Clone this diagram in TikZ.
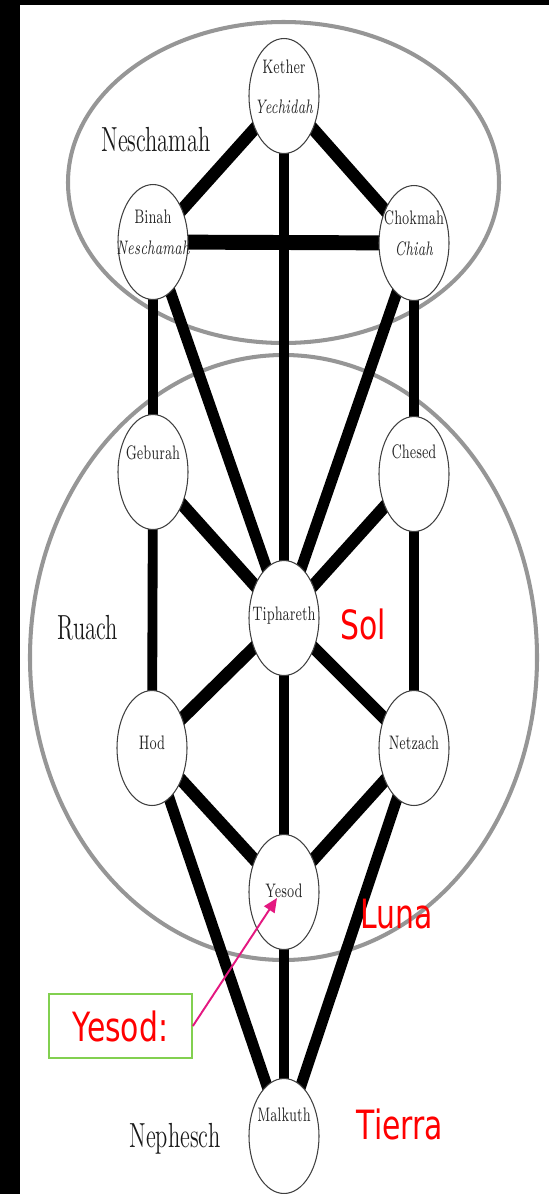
\documentclass[tikz,border=0pt]{standalone}
\usepackage{fontspec}
\usepackage{tikz}
\usetikzlibrary{arrows.meta, shapes.geometric, backgrounds}
\newfontfamily\tagfont{DejaVu Sans}
\definecolor{realmgray}{RGB}{150,150,150}
\definecolor{tagred}{RGB}{255,0,0}
\definecolor{pinkarrow}{RGB}{228,24,128}
\definecolor{boxgreen}{RGB}{130,208,80}
\newcommand{\tall}[2][1.55]{\scalebox{1}[#1]{#2}}

\begin{document}
\begin{tikzpicture}[
  x=0.02cm, y=-0.02cm,
  sefira/.style={ellipse, draw=black!75, line width=0.6pt, fill=white,
    minimum width=1.4cm, minimum height=2.3cm, inner sep=0pt},
  nm/.style={inner sep=0pt, text=black!85, font=\fontsize{7.2}{8}\selectfont},
  realm/.style={inner sep=0pt, text=black!90, font=\fontsize{12.8}{14}\selectfont},
  tag/.style={inner sep=0pt, text=tagred, font=\tagfont\fontsize{17}{20}\selectfont},
  realmline/.style={draw=realmgray, line width=2.3pt},
  vpath/.style={line width=5.6pt},
  dpath/.style={line width=7pt},
  lpath/.style={line width=6.3pt},
  hpath/.style={line width=8.5pt},
  pointer/.style={draw=pinkarrow, line width=1.1pt,
    -{Triangle[length=8pt, width=7pt]}}
]
  \useasboundingbox (0,0) rectangle (549,1194);
  \fill[black] (0,0) rectangle (549,5);
  \fill[black] (0,0) rectangle (20,1194);

  % the ten sefirot
  \node[sefira] (kether)  at (284,96)   {};
  \node[sefira] (binah)   at (153,242)  {};
  \node[sefira] (chokmah) at (414,243)  {};
  \node[sefira] (geburah) at (153,472)  {};
  \node[sefira] (chesed)  at (414,474)  {};
  \node[sefira] (tiph)    at (284,618)  {};
  \node[sefira] (hod)     at (152,748)  {};
  \node[sefira] (netzach) at (414,748)  {};
  \node[sefira] (yesod)   at (284,892)  {};
  \node[sefira] (malkuth) at (284,1136) {};

  \node[nm] (kethertx)   at (284,67)   {\tall{Kether}};
  \node[nm] (yechidahtx) at (284,107)  {\tall{\itshape Yechidah}};
  \node[nm] (binahtx)    at (153,217)  {\tall{Binah}};
  \node[nm] (neschtx)    at (153,248)  {\tall{\itshape Neschamah}};
  \node[nm] (chokmahtx)  at (414,218)  {\tall{Chokmah}};
  \node[nm] (chiahtx)    at (414,249)  {\tall{\itshape Chiah}};
  \node[nm] (geburahtx)  at (153,453)  {\tall{Geburah}};
  \node[nm] (chesedtx)   at (414,452)  {\tall{Chesed}};
  \node[nm] (tiphtx)     at (284,616)  {\tall{Tiphareth}};
  \node[nm] (hodtx)      at (152,743)  {\tall{Hod}};
  \node[nm] (netzachtx)  at (414,743)  {\tall{Netzach}};
  \node[nm] (yesodtx)    at (284,891)  {\tall{Yesod}};
  \node[nm] (malkuthtx)  at (284,1115) {\tall{Malkuth}};

  % soul parts and planets
  \node[realm] (neschamah) at (156,140)  {\tall{Neschamah}};
  \node[realm] (ruach)     at (88,628)   {\tall{Ruach}};
  \node[realm] (nephesch)  at (175,1139) {\tall{Nephesch}};
  \node[tag] (sol)    at (363,624)  {\tall[1.35]{Sol}};
  \node[tag] (luna)   at (397,914)  {\tall[1.35]{Luna}};
  \node[tag] (tierra) at (400,1124) {\tall[1.35]{Tierra}};

  \node[tag, draw=boxgreen, line width=1pt, fill=white,
        minimum width=2.86cm, minimum height=1.28cm] (yesodbox)
       at (120.5,1026) {\tall[1.35]{Yesod:}};
  \coordinate (yesodpt) at (277,898);
  \draw[pointer] (yesodbox.east) -- (yesodpt);

  \begin{scope}[on background layer]
    \draw[realmline] (283.5,182.5) ellipse [x radius=215.5, y radius=160.5];
    \draw[realmline] (283.5,657.5) ellipse [x radius=253.5, y radius=302.5];

    \draw[dpath] (kether.center)--(binah.center); \draw[dpath] (kether.center)--(chokmah.center);
    \draw[vpath] (kether.center)--(tiph.center);  \draw[hpath] (binah.center)--(chokmah.center);
    \draw[vpath] (binah.center)--(geburah.center); \draw[lpath] (binah.center)--(tiph.center);
    \draw[vpath] (chokmah.center)--(chesed.center); \draw[lpath] (chokmah.center)--(tiph.center);
    \draw[dpath] (geburah.center)--(tiph.center); \draw[dpath] (chesed.center)--(tiph.center);
    \draw[vpath] (geburah.center)--(hod.center); \draw[vpath] (chesed.center)--(netzach.center);
    \draw[dpath] (tiph.center)--(hod.center); \draw[dpath] (tiph.center)--(netzach.center);
    \draw[vpath] (tiph.center)--(yesod.center);
    \draw[dpath] (hod.center)--(yesod.center); \draw[dpath] (netzach.center)--(yesod.center);
    \draw[lpath] (hod.center)--(malkuth.center); \draw[lpath] (netzach.center)--(malkuth.center);
    \draw[vpath] (yesod.center)--(malkuth.center);
  \end{scope}
\end{tikzpicture}
\end{document}
